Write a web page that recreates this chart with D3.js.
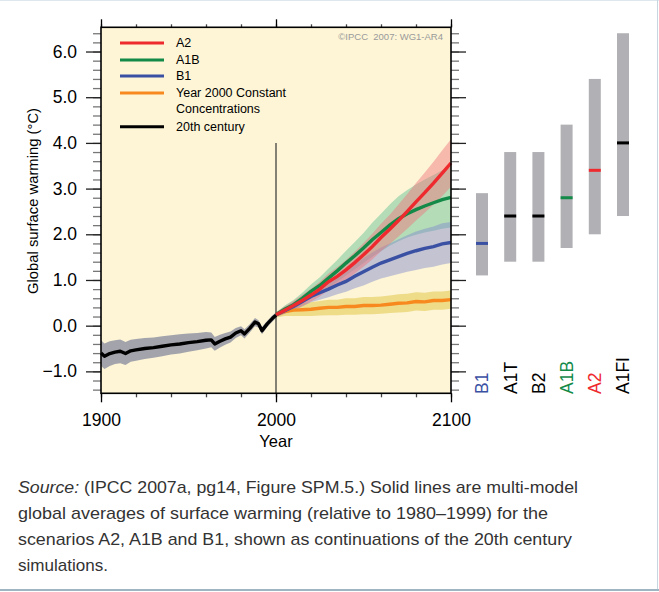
<!DOCTYPE html>
<html>
<head>
<meta charset="utf-8">
<script src="https://cdn.jsdelivr.net/npm/d3@7"></script>
<style>
  body { margin: 0; background: #fff; }
  svg text { font-family: "Liberation Sans", Arial, sans-serif; }
</style>
</head>
<body>
<svg id="chart" width="659" height="592"></svg>
<script>
// 20th century multi-model mean and spread
const histYears = [1900,1902,1905,1908,1911,1914,1917,1920,1925,1930,1935,1940,1945,1950,1955,1960,1963,1965,1968,1971,1974,1977,1980,1982,1985,1988,1990,1992,1995,1998,2000];
const histMean  = [-0.60,-0.67,-0.61,-0.58,-0.56,-0.61,-0.55,-0.53,-0.50,-0.48,-0.45,-0.42,-0.40,-0.37,-0.35,-0.32,-0.31,-0.40,-0.34,-0.29,-0.25,-0.16,-0.11,-0.18,-0.06,0.08,0.04,-0.11,0.04,0.16,0.23];
const histSpread = [0.28,0.28,0.27,0.26,0.26,0.25,0.24,0.24,0.23,0.22,0.22,0.21,0.21,0.20,0.19,0.18,0.16,0.15,0.14,0.13,0.12,0.11,0.10,0.10,0.09,0.09,0.08,0.08,0.07,0.07,0.06];

// scenario runs 2000-2100
const scenYears = [2000,2005,2010,2015,2020,2025,2030,2035,2040,2045,2050,2055,2060,2065,2070,2075,2080,2085,2090,2095,2100];
const a2Mean  = [0.24,0.34,0.44,0.55,0.67,0.80,0.96,1.08,1.22,1.38,1.55,1.73,1.93,2.11,2.30,2.50,2.71,2.91,3.12,3.34,3.56];
const a1bMean = [0.24,0.36,0.46,0.60,0.75,0.88,1.04,1.20,1.37,1.53,1.70,1.88,2.04,2.20,2.34,2.45,2.54,2.62,2.69,2.76,2.81];
const b1Mean  = [0.24,0.33,0.42,0.53,0.64,0.72,0.80,0.89,0.97,1.08,1.18,1.28,1.37,1.44,1.51,1.58,1.64,1.69,1.73,1.79,1.82];
const commitMean = [0.24,0.31,0.34,0.35,0.36,0.38,0.40,0.40,0.42,0.42,0.44,0.44,0.45,0.47,0.49,0.50,0.53,0.52,0.55,0.55,0.57];
const a2Spread  = [0.05,0.08,0.10,0.12,0.14,0.16,0.18,0.20,0.22,0.24,0.26,0.28,0.30,0.32,0.35,0.38,0.41,0.44,0.47,0.50,0.52];
const a1bSpread = [0.05,0.08,0.10,0.12,0.15,0.18,0.21,0.24,0.27,0.30,0.33,0.37,0.41,0.45,0.49,0.52,0.55,0.58,0.61,0.64,0.66];
const b1Spread  = [0.05,0.07,0.09,0.11,0.13,0.15,0.18,0.20,0.23,0.26,0.30,0.32,0.34,0.36,0.38,0.40,0.42,0.43,0.44,0.45,0.45];
const commitSpread = [0.06,0.10,0.13,0.14,0.15,0.16,0.17,0.17,0.18,0.18,0.19,0.19,0.19,0.19,0.20,0.20,0.20,0.20,0.20,0.20,0.20];

// likely ranges at 2090-2099
const barNames = ["B1","A1T","B2","A1B","A2","A1FI"];
const barBest  = [1.8, 2.4, 2.4, 2.8, 3.4, 4.0];
const barLow   = [1.1, 1.4, 1.4, 1.7, 2.0, 2.4];
const barHigh  = [2.9, 3.8, 3.8, 4.4, 5.4, 6.4];
const barColors = ["#3a50a3","#000","#000","#138a48","#ee2a2e","#000"];

const legendNames = ["A2","A1B","B1","Year 2000 Constant","20th century"];
const legendColors = ["#ee2a2e","#138a48","#3a50a3","#f7891f","#000"];

const captionLines = [
  "global averages of surface warming (relative to 1980\u20131999) for the",
  "scenarios A2, A1B and B1, shown as continuations of the 20th century",
  "simulations."
];

const svg = d3.select("#chart");

// page frame
svg.append("line").attr("x1",0).attr("x2",659).attr("y1",0.5).attr("y2",0.5).attr("stroke","#dfe6ec");
svg.append("line").attr("x1",657.5).attr("x2",657.5).attr("y1",0).attr("y2",590).attr("stroke","#c8d6df");
svg.append("rect").attr("x",0).attr("y",589).attr("width",659).attr("height",2).attr("fill","#9fb5c2");

const x = d3.scaleLinear().domain([1900, 2100]).range([101, 451]);
const y = d3.scaleLinear().domain([-1.48, 6.53]).range([393.3, 27.3]);

svg.append("rect")
  .attr("x", x(1900)).attr("y", y(6.53))
  .attr("width", x(2100) - x(1900)).attr("height", y(-1.48) - y(6.53))
  .attr("fill", "#fdf5d6");

const band = (years, mean, spread) => d3.area()
  .x((d, i) => x(years[i]))
  .y0((d, i) => y(mean[i] - spread[i]))
  .y1((d, i) => y(mean[i] + spread[i]))(mean);
const line = (years, mean) => d3.line()
  .x((d, i) => x(years[i]))
  .y(d => y(d))(mean);

// shaded ranges
svg.append("path").attr("d", band(histYears, histMean, histSpread)).attr("fill", "#a3a3ab");
svg.append("path").attr("d", band(scenYears, commitMean, commitSpread)).attr("fill", "#e0c43a").attr("opacity", 0.5);
svg.append("path").attr("d", band(scenYears, a1bMean, a1bSpread)).attr("fill", "#5cbf92").attr("opacity", 0.45);
svg.append("path").attr("d", band(scenYears, b1Mean, b1Spread)).attr("fill", "#7f87cf").attr("opacity", 0.45);
svg.append("path").attr("d", band(scenYears, a2Mean, a2Spread)).attr("fill", "#f0707a").attr("opacity", 0.45);

// 2000 divider
svg.append("line")
  .attr("x1", x(2000)).attr("x2", x(2000))
  .attr("y1", y(4.0)).attr("y2", y(-1.48))
  .attr("stroke", "#333").attr("stroke-width", 1.2);

// mean lines
const lw = 3.4;
svg.append("path").attr("d", line(scenYears, commitMean)).attr("fill","none").attr("stroke","#f7891f").attr("stroke-width",lw);
svg.append("path").attr("d", line(scenYears, b1Mean)).attr("fill","none").attr("stroke","#3a50a3").attr("stroke-width",lw);
svg.append("path").attr("d", line(scenYears, a1bMean)).attr("fill","none").attr("stroke","#138a48").attr("stroke-width",lw);
svg.append("path").attr("d", line(scenYears, a2Mean)).attr("fill","none").attr("stroke","#ee2a2e").attr("stroke-width",lw);
svg.append("path").attr("d", line(histYears, histMean)).attr("fill","none").attr("stroke","#000").attr("stroke-width",lw).attr("stroke-linejoin","round");

// axes
const fmt = d3.format(".1f");
const majorY = d3.range(-1, 7, 1);
const minorY = d3.range(-14, 66, 2).map(v => v / 10);
const majorX = [1900, 2000, 2100];
const minorX = d3.range(1900, 2101, 20);

function styleAxis(g, col) {
  g.select(".domain").remove();
  g.selectAll(".tick line").attr("stroke", col).attr("stroke-width", 1.3);
}

svg.append("g").attr("transform", `translate(${x(1900)},0)`)
  .call(d3.axisLeft(y).tickValues(minorY).tickSize(8).tickFormat(""))
  .call(g => styleAxis(g, "#777"));
svg.append("g").attr("transform", `translate(${x(1900)},0)`)
  .call(d3.axisLeft(y).tickValues(majorY).tickSize(15).tickPadding(9).tickFormat(fmt))
  .call(g => styleAxis(g, "#222"))
  .call(g => g.selectAll("text").attr("font-size", 17.5).attr("fill", "#000"));

svg.append("g").attr("transform", `translate(${x(2100)},0)`)
  .call(d3.axisRight(y).tickValues(minorY).tickSize(8).tickFormat(""))
  .call(g => styleAxis(g, "#777"));
svg.append("g").attr("transform", `translate(${x(2100)},0)`)
  .call(d3.axisRight(y).tickValues(majorY).tickSize(15).tickFormat(""))
  .call(g => styleAxis(g, "#222"));

svg.append("g").attr("transform", `translate(0,${y(6.53)})`)
  .call(d3.axisTop(x).tickValues(minorX).tickSize(3).tickFormat(""))
  .call(g => styleAxis(g, "#444"));
svg.append("g").attr("transform", `translate(0,${y(6.53)})`)
  .call(d3.axisTop(x).tickValues(majorX).tickSize(8).tickFormat(""))
  .call(g => styleAxis(g, "#000"));

svg.append("g").attr("transform", `translate(0,${y(-1.48)})`)
  .call(d3.axisBottom(x).tickValues(minorX).tickSize(4).tickFormat(""))
  .call(g => styleAxis(g, "#444"));
svg.append("g").attr("transform", `translate(0,${y(-1.48)})`)
  .call(d3.axisBottom(x).tickValues(majorX).tickSize(9).tickPadding(11).tickFormat(d3.format("d")))
  .call(g => styleAxis(g, "#000"))
  .call(g => g.selectAll("text").attr("font-size", 17.5).attr("fill", "#000"));

// plot frame
svg.append("rect")
  .attr("x", x(1900)).attr("y", y(6.53))
  .attr("width", x(2100) - x(1900)).attr("height", y(-1.48) - y(6.53))
  .attr("fill", "none").attr("stroke", "#000").attr("stroke-width", 1.6);

// axis titles
svg.append("text").attr("x", x(2000)).attr("y", 446.5)
  .attr("text-anchor", "middle").attr("font-size", 16.5).text("Year");
svg.append("text")
  .attr("transform", "translate(38,201) rotate(-90)")
  .attr("text-anchor", "middle").attr("font-size", 14.8)
  .text("Global surface warming (\u00B0C)");

svg.append("text").attr("x", 443).attr("y", 40)
  .attr("text-anchor", "end").attr("font-size", 9.5).attr("fill", "#9a9a9a")
  .attr("xml:space", "preserve")
  .text("\u00A9IPCC  2007: WG1-AR4");

// legend
const legY = [43, 60, 76, 93, 126.7];
legendNames.forEach((name, i) => {
  svg.append("line").attr("x1", 120).attr("x2", 164)
    .attr("y1", legY[i]).attr("y2", legY[i])
    .attr("stroke", legendColors[i]).attr("stroke-width", 3);
  svg.append("text").attr("x", 176).attr("y", legY[i]).attr("dy", "0.35em")
    .attr("font-size", 12.5).text(name);
  if (name.startsWith("Year")) {
    svg.append("text").attr("x", 176).attr("y", legY[i] + 15.7).attr("dy", "0.35em")
      .attr("font-size", 12.5).text("Concentrations");
  }
});

// likely-range bars
const bx = d3.scalePoint().domain(barNames).range([482, 623]);
const bw = 12;
svg.selectAll("rect.range").data(barNames).enter().append("rect")
  .attr("class", "range")
  .attr("x", d => bx(d) - bw / 2)
  .attr("y", (d, i) => y(barHigh[i]))
  .attr("width", bw)
  .attr("height", (d, i) => y(barLow[i]) - y(barHigh[i]))
  .attr("fill", "#b1b1b5");
svg.selectAll("rect.best").data(barNames).enter().append("rect")
  .attr("class", "best")
  .attr("x", d => bx(d) - bw / 2)
  .attr("y", (d, i) => y(barBest[i]) - 1.5)
  .attr("width", bw).attr("height", 3)
  .attr("fill", (d, i) => barColors[i]);
svg.selectAll("text.scen").data(barNames).enter().append("text")
  .attr("class", "scen")
  .attr("transform", d => `translate(${bx(d)},394) rotate(-90)`)
  .attr("dy", "0.36em")
  .attr("font-size", 17.5)
  .attr("fill", (d, i) => barColors[i])
  .text(d => d);

// caption
const cap = svg.append("g").attr("fill", "#333").attr("font-size", 17);
const first = cap.append("text").attr("x", 18).attr("y", 493)
  .attr("textLength", 560).attr("lengthAdjust", "spacingAndGlyphs");
first.append("tspan").attr("font-style", "italic").text("Source:");
first.append("tspan").text(" (IPCC 2007a, pg14, Figure SPM.5.) Solid lines are multi-model");
const capLen = [530, 554, 90];
captionLines.forEach((s, i) => {
  cap.append("text").attr("x", 18).attr("y", 519 + i * 26)
    .attr("textLength", capLen[i]).attr("lengthAdjust", "spacingAndGlyphs")
    .text(s);
});
</script>
</body>
</html>
